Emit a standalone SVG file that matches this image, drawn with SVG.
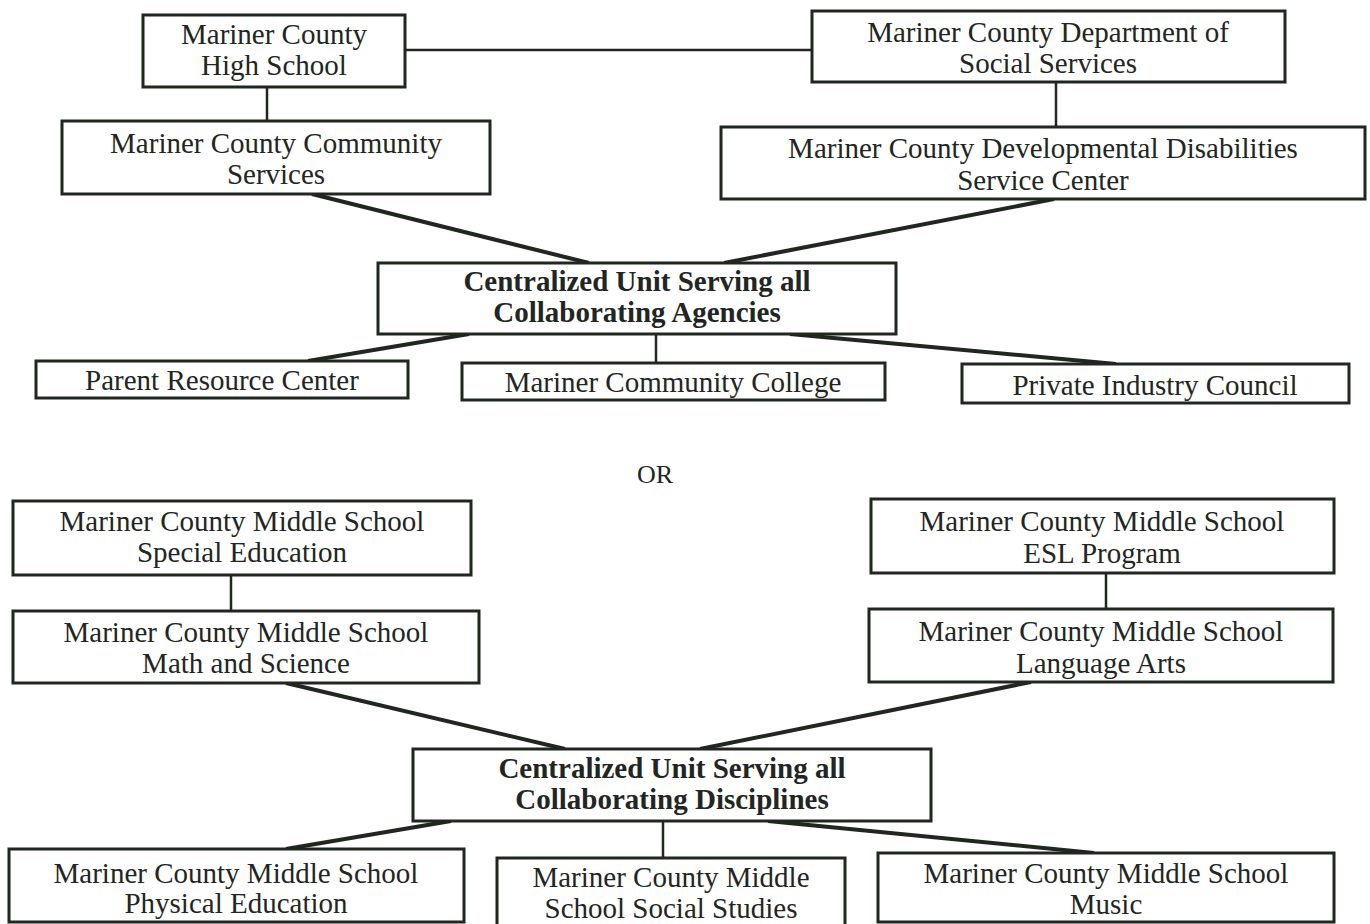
<svg xmlns="http://www.w3.org/2000/svg" width="1370" height="924" viewBox="0 0 1370 924">
<style>
.box{fill:#fff;stroke:#1f271f;stroke-width:3}
.t{font-family:"Liberation Serif","Times New Roman",serif;font-size:29px;fill:#222622;text-anchor:middle}
.b{font-weight:bold}
.thin{stroke:#1f271f;stroke-width:2.5;fill:none}
.thick{stroke:#1f271f;stroke-width:4;fill:none}
</style>
<rect width="1370" height="924" fill="#fff"/>
<g id="connectors">
<line class="thin" x1="405" y1="50" x2="812" y2="50"/>
<line class="thin" x1="267" y1="87" x2="267" y2="121"/>
<line class="thin" x1="1056" y1="82" x2="1056" y2="127"/>
<line class="thick" x1="312" y1="194" x2="589" y2="263"/>
<line class="thick" x1="1054" y1="199" x2="724" y2="263"/>
<line class="thick" x1="469" y1="334" x2="308" y2="361"/>
<line class="thin" x1="656" y1="334" x2="656" y2="363"/>
<line class="thick" x1="790" y1="334" x2="1116" y2="364"/>
<line class="thin" x1="231" y1="575" x2="231" y2="611"/>
<line class="thin" x1="1106" y1="573" x2="1106" y2="609"/>
<line class="thick" x1="286" y1="683" x2="565" y2="749"/>
<line class="thick" x1="1031" y1="682" x2="700" y2="749"/>
<line class="thick" x1="451" y1="821" x2="286" y2="849"/>
<line class="thin" x1="663" y1="821" x2="663" y2="858"/>
<line class="thick" x1="768" y1="821" x2="1094" y2="853"/>
</g>
<g id="hs"><rect class="box" x="143" y="15" width="262" height="72"/><text class="t" x="274" y="44">Mariner County</text><text class="t" x="274" y="75">High School</text></g>
<g id="dss"><rect class="box" x="812" y="11" width="473" height="71"/><text class="t" x="1048" y="42">Mariner County Department of</text><text class="t" x="1048" y="73">Social Services</text></g>
<g id="cs"><rect class="box" x="62" y="121" width="428" height="73"/><text class="t" x="276" y="153">Mariner County Community</text><text class="t" x="276" y="184">Services</text></g>
<g id="ddsc"><rect class="box" x="721" y="127" width="644" height="72"/><text class="t" x="1043" y="158">Mariner County Developmental Disabilities</text><text class="t" x="1043" y="190">Service Center</text></g>
<g id="c1"><rect class="box" x="378" y="263" width="518" height="71"/><text class="t b" x="637" y="291">Centralized Unit Serving all</text><text class="t b" x="637" y="322">Collaborating Agencies</text></g>
<g id="prc"><rect class="box" x="36" y="361" width="372" height="37"/><text class="t" x="222" y="390">Parent Resource Center</text></g>
<g id="mcc"><rect class="box" x="462" y="363" width="423" height="37"/><text class="t" x="673" y="392">Mariner Community College</text></g>
<g id="pic"><rect class="box" x="962" y="364" width="387" height="39"/><text class="t" x="1155" y="395">Private Industry Council</text></g>
<text class="t" x="655" y="483" style="font-size:26px">OR</text>
<g id="se"><rect class="box" x="13" y="501" width="458" height="74"/><text class="t" x="242" y="531">Mariner County Middle School</text><text class="t" x="242" y="562">Special Education</text></g>
<g id="ms"><rect class="box" x="13" y="611" width="466" height="72"/><text class="t" x="246" y="642">Mariner County Middle School</text><text class="t" x="246" y="673">Math and Science</text></g>
<g id="esl"><rect class="box" x="871" y="499" width="463" height="74"/><text class="t" x="1102" y="531">Mariner County Middle School</text><text class="t" x="1102" y="563">ESL Program</text></g>
<g id="la"><rect class="box" x="869" y="609" width="464" height="73"/><text class="t" x="1101" y="641">Mariner County Middle School</text><text class="t" x="1101" y="673">Language Arts</text></g>
<g id="c2"><rect class="box" x="413" y="749" width="518" height="72"/><text class="t b" x="672" y="778">Centralized Unit Serving all</text><text class="t b" x="672" y="809">Collaborating Disciplines</text></g>
<g id="pe"><rect class="box" x="9" y="849" width="455" height="73"/><text class="t" x="236" y="883">Mariner County Middle School</text><text class="t" x="236" y="913">Physical Education</text></g>
<g id="ss"><rect class="box" x="497" y="858" width="348" height="80"/><text class="t" x="671" y="887">Mariner County Middle</text><text class="t" x="671" y="918">School Social Studies</text></g>
<g id="mu"><rect class="box" x="878" y="853" width="456" height="69"/><text class="t" x="1106" y="883">Mariner County Middle School</text><text class="t" x="1106" y="914">Music</text></g>
</svg>
